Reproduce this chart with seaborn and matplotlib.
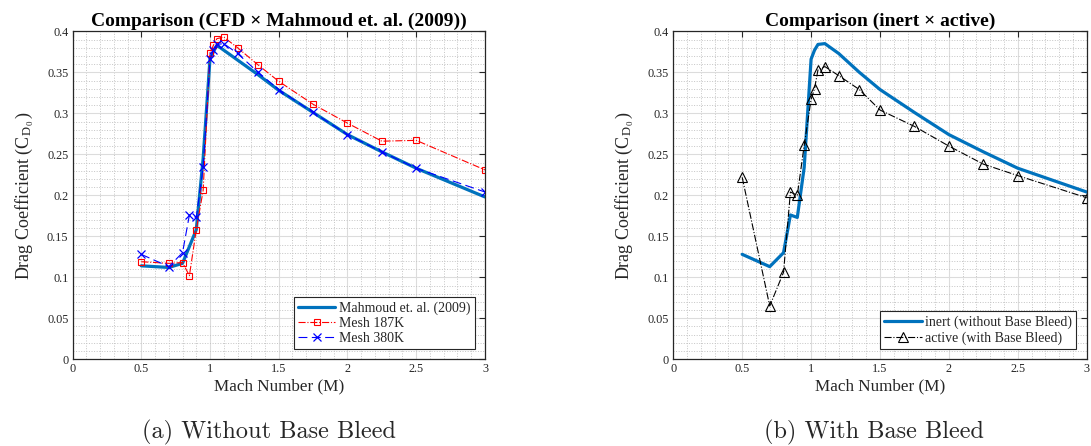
import numpy as np
import pandas as pd
import matplotlib
matplotlib.use("Agg")
import matplotlib.pyplot as plt
import seaborn as sns
from matplotlib.ticker import MultipleLocator, FuncFormatter

## Dados
mach_ref = [0.5, 0.6, 0.7, 0.8, 0.9, 0.95, 1.0, 1.05, 1.1, 1.2, 1.35, 1.5, 1.75, 2.0, 2.25, 2.5, 3.0]
cd_ref = [0.114, 0.113, 0.112, 0.117, 0.158, 0.245, 0.367, 0.383, 0.377, 0.365, 0.347, 0.328, 0.301, 0.274, 0.253, 0.233, 0.198]

mach_mesh = [0.5, 0.7, 0.8, 0.85, 0.9, 0.95, 1.0, 1.025, 1.05, 1.1, 1.2, 1.35, 1.5, 1.75, 2.0, 2.25, 2.5, 3.0]
cd_187k = [0.119, 0.117, 0.118, 0.102, 0.158, 0.206, 0.374, 0.383, 0.391, 0.393, 0.380, 0.359, 0.339, 0.311, 0.288, 0.266, 0.267, 0.231]
cd_380k = [0.128, 0.113, 0.130, 0.176, 0.173, 0.234, 0.366, 0.377, 0.384, 0.385, 0.373, 0.350, 0.329, 0.301, 0.274, 0.253, 0.233, 0.204]

mach_active = [0.5, 0.7, 0.8, 0.85, 0.9, 0.95, 1.0, 1.025, 1.05, 1.1, 1.2, 1.35, 1.5, 1.75, 2.0, 2.25, 2.5, 3.0]
cd_active = [0.222, 0.065, 0.106, 0.204, 0.200, 0.261, 0.317, 0.330, 0.353, 0.357, 0.346, 0.329, 0.304, 0.284, 0.260, 0.238, 0.224, 0.197]

df_ref = pd.DataFrame({'M': mach_ref, 'Cd': cd_ref})
df_mesh = pd.DataFrame({'M': mach_mesh, 'c187': cd_187k, 'c380': cd_380k})
df_act = pd.DataFrame({'M': mach_active, 'Cd': cd_active})

## Estilo
sns.set_theme(style="white")
plt.rcParams['font.family'] = ['Liberation Serif', 'DejaVu Serif']
plt.rcParams['mathtext.fontset'] = 'custom'
plt.rcParams['mathtext.rm'] = 'Liberation Serif'
plt.rcParams['mathtext.it'] = 'Liberation Serif:italic'

matlab_blue = '#0072BD'
axis_col = '#262626'

fig = plt.figure(figsize=(10.91, 4.46), dpi=100)
ax1 = fig.add_axes([0.0665, 0.1944, 0.378, 0.7354])
ax2 = fig.add_axes([0.6171, 0.1944, 0.379, 0.7354])


def style_axes(ax, title):
    ax.set_xlim(0, 3)
    ax.set_ylim(0, 0.4)
    ax.xaxis.set_major_locator(MultipleLocator(0.5))
    ax.xaxis.set_minor_locator(MultipleLocator(0.1))
    ax.yaxis.set_major_locator(MultipleLocator(0.05))
    ax.yaxis.set_minor_locator(MultipleLocator(0.01))
    fmt = FuncFormatter(lambda v, p: f'{v:g}')
    ax.xaxis.set_major_formatter(fmt)
    ax.yaxis.set_major_formatter(fmt)
    ax.grid(True, which='major', color='#dcdcdc', linewidth=0.8)
    ax.grid(True, which='minor', color='#c4c4c4', linestyle=':', linewidth=0.7)
    ax.set_axisbelow(True)
    ax.tick_params(which='major', direction='in', length=4, width=0.8, color=axis_col,
                   top=True, right=True, labelsize=8.8, labelcolor=axis_col, pad=3)
    ax.tick_params(which='minor', length=0)
    for s in ax.spines.values():
        s.set_color(axis_col)
        s.set_linewidth(0.9)
    ax.set_xlabel('Mach Number (M)', fontsize=12.3, color=axis_col, labelpad=2)
    ax.set_ylabel(r'Drag Coefficient ($\mathrm{C_{D_{\,0}}}\,$)', fontsize=13,
                  color=axis_col, labelpad=8)
    ax.set_title(title, fontsize=14, fontweight='bold', color='black', pad=4)


## Gráfico (a)
sns.lineplot(data=df_ref, x='M', y='Cd', ax=ax1, color=matlab_blue, linewidth=2.3,
             sort=False, estimator=None, label='Mahmoud et. al. (2009)')
sns.lineplot(data=df_mesh, x='M', y='c187', ax=ax1, color='red', linewidth=0.8,
             linestyle='-.', marker='s', markersize=5, markerfacecolor='none',
             markeredgecolor='red', markeredgewidth=0.8,
             sort=False, estimator=None, label='Mesh 187K')
sns.lineplot(data=df_mesh, x='M', y='c380', ax=ax1, color='blue', linewidth=0.8,
             linestyle=(0, (8, 4)), marker='x', markersize=5.5,
             markeredgecolor='blue', markeredgewidth=0.9,
             sort=False, estimator=None, label='Mesh 380K')
style_axes(ax1, 'Comparison (CFD × Mahmoud et. al. (2009))')

## Gráfico (b)
sns.lineplot(data=df_mesh, x='M', y='c380', ax=ax2, color=matlab_blue, linewidth=2.3,
             sort=False, estimator=None, label='inert (without Base Bleed)')
sns.lineplot(data=df_act, x='M', y='Cd', ax=ax2, color='black', linewidth=0.8,
             linestyle='-.', marker='^', markersize=6.5, markerfacecolor='none',
             markeredgecolor='black', markeredgewidth=0.8,
             sort=False, estimator=None, label='active (with Base Bleed)')
style_axes(ax2, 'Comparison (inert × active)')

for ax in (ax1, ax2):
    leg = ax.legend(loc='lower right', fontsize=10, frameon=True, fancybox=False,
                    edgecolor=axis_col, framealpha=1, borderaxespad=0.75,
                    handlelength=2.7, handletextpad=0.25, labelspacing=0.15,
                    borderpad=0.3)
    leg.get_frame().set_linewidth(0.8)

## Legendas das subfiguras
fig.text(0.2465, 0.016, '(a) Without Base Bleed', family='cmr10', fontsize=17.5,
         ha='center', va='baseline')
fig.text(0.801, 0.016, '(b) With Base Bleed', family='cmr10', fontsize=17.5,
         ha='center', va='baseline')

plt.savefig('out.png', dpi=100)
